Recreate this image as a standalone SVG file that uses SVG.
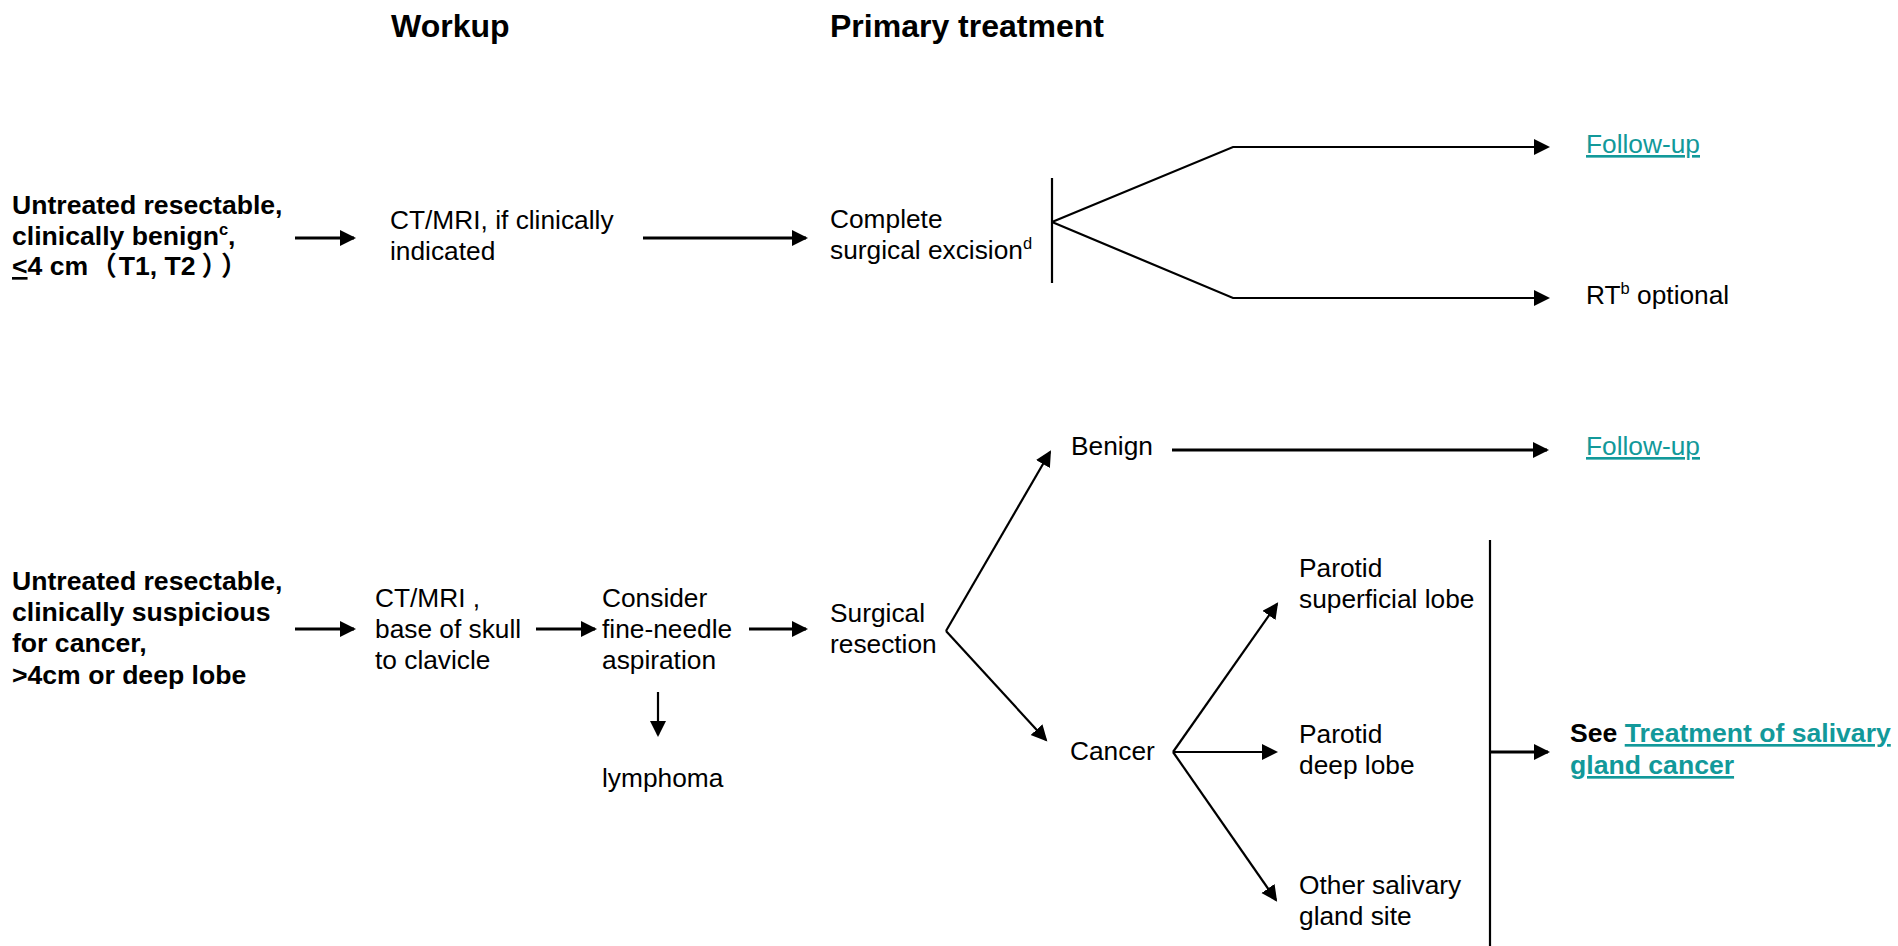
<svg xmlns="http://www.w3.org/2000/svg" width="1898" height="946" viewBox="0 0 1898 946">
  <style>
    text { font-family: "Liberation Sans", Arial, "Noto Sans CJK SC", sans-serif; font-size: 26.3px; fill: #000; }
    .b { font-weight: bold; font-size: 26.6px; }
    .h { font-size: 32px; font-weight: bold; }
    .lnk { fill: #12999a; text-decoration: underline; }
    .sup { font-size: 16.5px; }
    .c { stroke: #000; fill: none; }
    .w1 { stroke-width: 2.8; }
    .w2 { stroke-width: 2.2; }
  </style>
  <defs>
    <marker id="ah" markerUnits="userSpaceOnUse" markerWidth="18" markerHeight="18" refX="14" refY="8" orient="auto">
      <path d="M0,0 L16,8 L0,16 z" fill="#000"/>
    </marker>
  </defs>

  <!-- column headings -->
  <g id="headings">
    <text class="h" x="391" y="37">Workup</text>
    <text class="h" x="830" y="37">Primary treatment</text>
  </g>

  <!-- connectors -->
  <g id="connectors">
    <!-- benign branch -->
    <line class="c w1" x1="295" y1="238" x2="354" y2="238" marker-end="url(#ah)"/>
    <line class="c w1" x1="643" y1="238" x2="806" y2="238" marker-end="url(#ah)"/>
    <line class="c w2" x1="1052" y1="178" x2="1052" y2="283"/>
    <polyline class="c w2" points="1052,222 1233,147 1548,147" marker-end="url(#ah)"/>
    <polyline class="c w2" points="1052,222 1233,298 1548,298" marker-end="url(#ah)"/>

    <!-- suspicious branch -->
    <line class="c w1" x1="295" y1="629" x2="354" y2="629" marker-end="url(#ah)"/>
    <line class="c w1" x1="536" y1="629" x2="595" y2="629" marker-end="url(#ah)"/>
    <line class="c w1" x1="749" y1="629" x2="806" y2="629" marker-end="url(#ah)"/>
    <line class="c w2" x1="658" y1="692" x2="658" y2="735" marker-end="url(#ah)"/>
    <line class="c w2" x1="946" y1="631" x2="1050" y2="452" marker-end="url(#ah)"/>
    <line class="c w2" x1="946" y1="631" x2="1046" y2="740" marker-end="url(#ah)"/>
    <line class="c w1" x1="1172" y1="450" x2="1547" y2="450" marker-end="url(#ah)"/>
    <line class="c w2" x1="1173" y1="752" x2="1277" y2="604" marker-end="url(#ah)"/>
    <line class="c w2" x1="1173" y1="752" x2="1276" y2="752" marker-end="url(#ah)"/>
    <line class="c w2" x1="1173" y1="752" x2="1276" y2="900" marker-end="url(#ah)"/>
    <line class="c w2" x1="1490" y1="540" x2="1490" y2="946"/>
    <line class="c w1" x1="1490" y1="752" x2="1548" y2="752" marker-end="url(#ah)"/>
  </g>

  <g id="benign-presentation">
    <text class="b" x="12" y="214">Untreated resectable,</text>
    <text class="b" x="12" y="245">clinically benign<tspan class="sup" dy="-10">c</tspan><tspan dy="10">,</tspan></text>
    <text class="b" x="12" y="275"><tspan text-decoration="underline">&lt;</tspan>4 cm<tspan dx="2">（</tspan><tspan dx="2">T1, T2</tspan><tspan dx="6">）</tspan><tspan dx="6">）</tspan></text>
  </g>
  <g id="benign-workup">
    <text x="390" y="229">CT/MRI, if clinically</text>
    <text x="390" y="260">indicated</text>
  </g>
  <g id="complete-excision">
    <text x="830" y="228">Complete</text>
    <text x="830" y="259">surgical excision<tspan class="sup" dy="-10">d</tspan></text>
  </g>
  <g id="follow-up-1">
    <text class="lnk" x="1586" y="153">Follow-up</text>
  </g>
  <g id="rt-optional">
    <text x="1586" y="304">RT<tspan class="sup" dy="-10">b</tspan><tspan dy="10"> optional</tspan></text>
  </g>

  <g id="suspicious-presentation">
    <text class="b" x="12" y="590">Untreated resectable,</text>
    <text class="b" x="12" y="621">clinically suspicious</text>
    <text class="b" x="12" y="652">for cancer,</text>
    <text class="b" x="12" y="684">&gt;4cm or deep lobe</text>
  </g>
  <g id="suspicious-imaging">
    <text x="375" y="607">CT/MRI ,</text>
    <text x="375" y="638">base of skull</text>
    <text x="375" y="669">to clavicle</text>
  </g>
  <g id="fna">
    <text x="602" y="607">Consider</text>
    <text x="602" y="638">fine-needle</text>
    <text x="602" y="669">aspiration</text>
  </g>
  <g id="lymphoma">
    <text x="602" y="787">lymphoma</text>
  </g>
  <g id="surgical-resection">
    <text x="830" y="622">Surgical</text>
    <text x="830" y="653">resection</text>
  </g>
  <g id="benign-result">
    <text x="1071" y="455">Benign</text>
  </g>
  <g id="follow-up-2">
    <text class="lnk" x="1586" y="455">Follow-up</text>
  </g>
  <g id="cancer-result">
    <text x="1070" y="760">Cancer</text>
  </g>
  <g id="parotid-superficial">
    <text x="1299" y="577">Parotid</text>
    <text x="1299" y="608">superficial lobe</text>
  </g>
  <g id="parotid-deep">
    <text x="1299" y="743">Parotid</text>
    <text x="1299" y="774">deep lobe</text>
  </g>
  <g id="other-site">
    <text x="1299" y="894">Other salivary</text>
    <text x="1299" y="925">gland site</text>
  </g>
  <g id="see-treatment">
    <text class="b" x="1570" y="742">See <tspan class="lnk">Treatment of salivary</tspan></text>
    <text class="b lnk" x="1570" y="774">gland cancer</text>
  </g>
</svg>
